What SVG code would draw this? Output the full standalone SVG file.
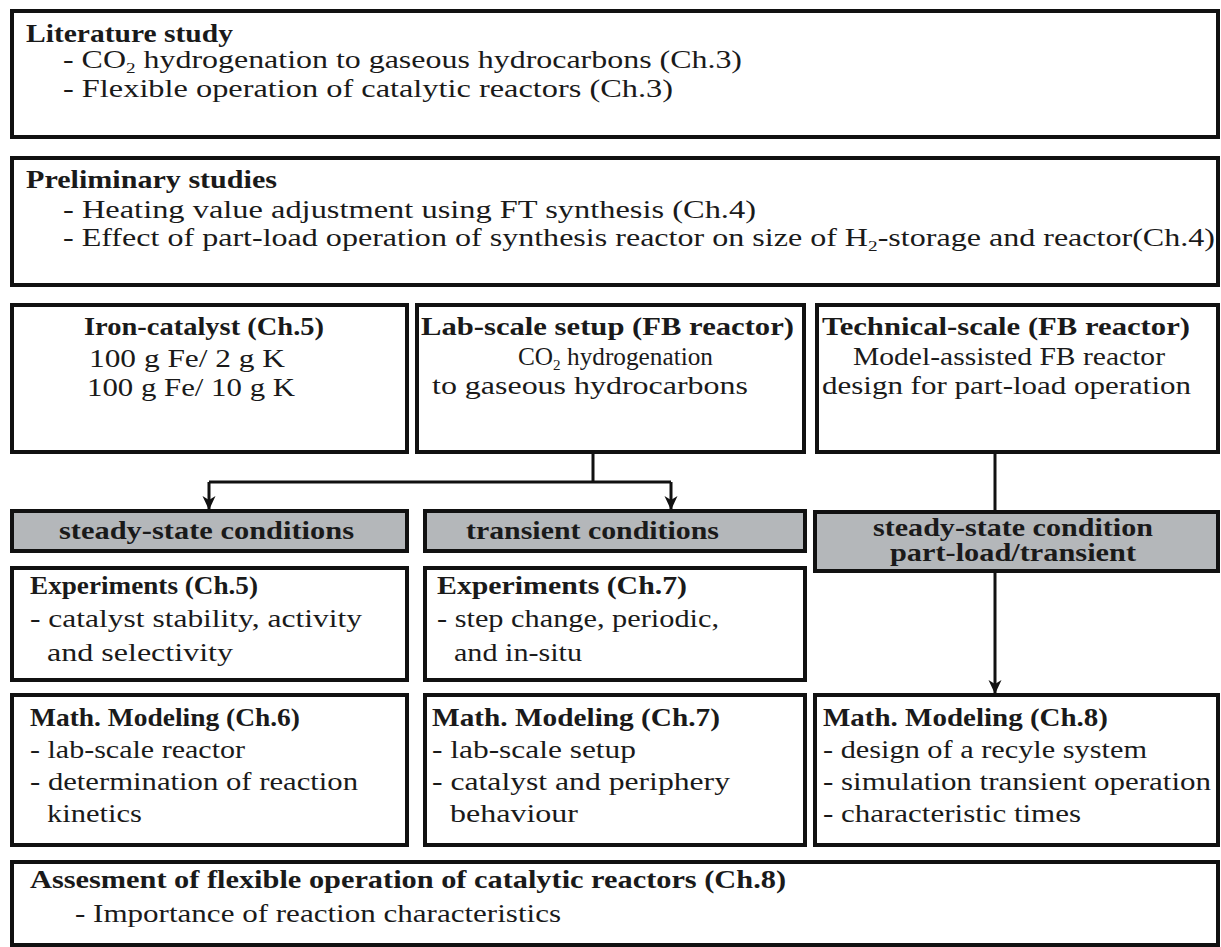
<svg xmlns="http://www.w3.org/2000/svg" width="1221" height="947" viewBox="0 0 1221 947">
<style>
.box{fill:#ffffff;stroke:#111111;stroke-width:4}
.hdr{fill:#b4b7ba;stroke:#111111;stroke-width:4}
text{font-family:"Liberation Serif","Times New Roman",serif;font-size:25px;fill:#1a1a1a}
.b{font-weight:bold}
.sub{font-size:15px}
.con{fill:none;stroke:#111111;stroke-width:3}
</style>
<defs>
<marker id="arr" markerWidth="16" markerHeight="16" refX="13" refY="8" orient="auto" markerUnits="userSpaceOnUse">
<path d="M0,1.5 L14,8 L0,14.5 L4,8 z" fill="#111111"/>
</marker>
</defs>
<rect width="1221" height="947" fill="#ffffff"/>

<g id="connectors">
<path class="con" d="M593,452 V482 M209,482 H671"/>
<path class="con" d="M209,482 V509" marker-end="url(#arr)"/>
<path class="con" d="M671,482 V509" marker-end="url(#arr)"/>
<path class="con" d="M995,452 V512"/>
<path class="con" d="M995,571 V693" marker-end="url(#arr)"/>
</g>

<g id="literature">
<rect class="box" x="12" y="11" width="1206" height="126"/>
<text class="b" x="26" y="42" textLength="207" lengthAdjust="spacingAndGlyphs">Literature study</text>
<text x="63" y="68" textLength="679" lengthAdjust="spacingAndGlyphs">- CO<tspan class="sub" dy="5">2</tspan><tspan dy="-5"> hydrogenation to gaseous hydrocarbons (Ch.3)</tspan></text>
<text x="63" y="97" textLength="610" lengthAdjust="spacingAndGlyphs">- Flexible operation of catalytic reactors (Ch.3)</text>
</g>

<g id="preliminary">
<rect class="box" x="12" y="158" width="1206" height="127"/>
<text class="b" x="26" y="188" textLength="251" lengthAdjust="spacingAndGlyphs">Preliminary studies</text>
<text x="63" y="218" textLength="693" lengthAdjust="spacingAndGlyphs">- Heating value adjustment using FT synthesis (Ch.4)</text>
<text x="63" y="246" textLength="1152" lengthAdjust="spacingAndGlyphs">- Effect of part-load operation of synthesis reactor on size of H<tspan class="sub" dy="5">2</tspan><tspan dy="-5">-storage and reactor(Ch.4)</tspan></text>
</g>

<g id="iron">
<rect class="box" x="12" y="305" width="395" height="147"/>
<text class="b" x="84" y="335" textLength="240" lengthAdjust="spacingAndGlyphs">Iron-catalyst (Ch.5)</text>
<text x="89" y="367" textLength="196" lengthAdjust="spacingAndGlyphs">100 g Fe/ 2 g K</text>
<text x="87" y="396" textLength="208" lengthAdjust="spacingAndGlyphs">100 g Fe/ 10 g K</text>
</g>

<g id="labscale">
<rect class="box" x="417" y="305" width="387" height="147"/>
<text class="b" x="421" y="335" textLength="373" lengthAdjust="spacingAndGlyphs">Lab-scale setup (FB reactor)</text>
<text x="518" y="365" textLength="195" lengthAdjust="spacingAndGlyphs">CO<tspan class="sub" dy="5">2</tspan><tspan dy="-5"> hydrogenation</tspan></text>
<text x="432" y="394" textLength="316" lengthAdjust="spacingAndGlyphs">to gaseous hydrocarbons</text>
</g>

<g id="technical">
<rect class="box" x="817" y="305" width="401" height="147"/>
<text class="b" x="822" y="335" textLength="368" lengthAdjust="spacingAndGlyphs">Technical-scale (FB reactor)</text>
<text x="853" y="365" textLength="312" lengthAdjust="spacingAndGlyphs">Model-assisted FB reactor</text>
<text x="822" y="394" textLength="369" lengthAdjust="spacingAndGlyphs">design for part-load operation</text>
</g>

<g id="steady">
<rect class="hdr" x="12" y="511" width="395" height="40"/>
<text class="b" x="59" y="539" textLength="295" lengthAdjust="spacingAndGlyphs">steady-state conditions</text>
</g>

<g id="transient">
<rect class="hdr" x="425" y="511" width="380" height="40"/>
<text class="b" x="466" y="539" textLength="253" lengthAdjust="spacingAndGlyphs">transient conditions</text>
</g>

<g id="steady-partload">
<rect class="hdr" x="815" y="512" width="403" height="59"/>
<text class="b" x="873" y="536" textLength="280" lengthAdjust="spacingAndGlyphs">steady-state condition</text>
<text class="b" x="890" y="561" textLength="246" lengthAdjust="spacingAndGlyphs">part-load/transient</text>
</g>

<g id="exp5">
<rect class="box" x="12" y="568" width="395" height="112"/>
<text class="b" x="30" y="594" textLength="228" lengthAdjust="spacingAndGlyphs">Experiments (Ch.5)</text>
<text x="30" y="627" textLength="332" lengthAdjust="spacingAndGlyphs">- catalyst stability, activity</text>
<text x="47" y="661" textLength="186" lengthAdjust="spacingAndGlyphs">and  selectivity</text>
</g>

<g id="exp7">
<rect class="box" x="425" y="568" width="380" height="112"/>
<text class="b" x="437" y="594" textLength="250" lengthAdjust="spacingAndGlyphs">Experiments (Ch.7)</text>
<text x="437" y="627" textLength="282" lengthAdjust="spacingAndGlyphs">- step change, periodic,</text>
<text x="454" y="661" textLength="128" lengthAdjust="spacingAndGlyphs">and in-situ</text>
</g>

<g id="math6">
<rect class="box" x="12" y="695" width="395" height="150"/>
<text class="b" x="30" y="726" textLength="270" lengthAdjust="spacingAndGlyphs">Math. Modeling (Ch.6)</text>
<text x="30" y="758" textLength="215" lengthAdjust="spacingAndGlyphs">- lab-scale reactor</text>
<text x="30" y="790" textLength="328" lengthAdjust="spacingAndGlyphs">- determination of reaction</text>
<text x="47" y="822" textLength="95" lengthAdjust="spacingAndGlyphs">kinetics</text>
</g>

<g id="math7">
<rect class="box" x="425" y="695" width="380" height="150"/>
<text class="b" x="432" y="726" textLength="288" lengthAdjust="spacingAndGlyphs">Math. Modeling (Ch.7)</text>
<text x="432" y="758" textLength="204" lengthAdjust="spacingAndGlyphs">- lab-scale setup</text>
<text x="432" y="790" textLength="298" lengthAdjust="spacingAndGlyphs">- catalyst and periphery</text>
<text x="450" y="822" textLength="128" lengthAdjust="spacingAndGlyphs">behaviour</text>
</g>

<g id="math8">
<rect class="box" x="815" y="695" width="403" height="150"/>
<text class="b" x="823" y="726" textLength="285" lengthAdjust="spacingAndGlyphs">Math. Modeling (Ch.8)</text>
<text x="823" y="758" textLength="324" lengthAdjust="spacingAndGlyphs">- design of a recyle system</text>
<text x="823" y="790" textLength="388" lengthAdjust="spacingAndGlyphs">- simulation transient operation</text>
<text x="823" y="822" textLength="258" lengthAdjust="spacingAndGlyphs">- characteristic times</text>
</g>

<g id="assessment">
<rect class="box" x="12" y="862" width="1206" height="83"/>
<text class="b" x="30" y="888" textLength="756" lengthAdjust="spacingAndGlyphs">Assesment of flexible operation of catalytic reactors (Ch.8)</text>
<text x="75" y="922" textLength="486" lengthAdjust="spacingAndGlyphs">- Importance of reaction characteristics</text>
</g>
</svg>
